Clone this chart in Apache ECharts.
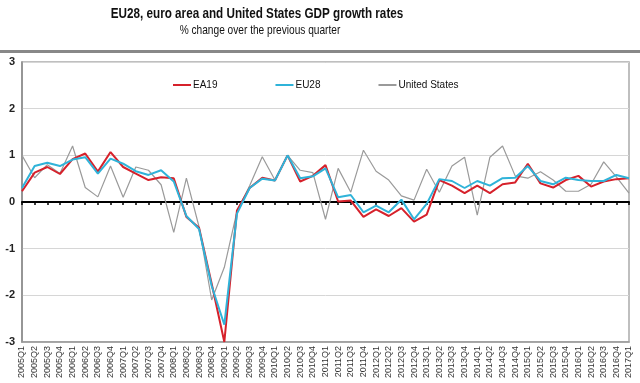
<!DOCTYPE html>
<html><head><meta charset="utf-8">
<script src="https://cdn.jsdelivr.net/npm/echarts@6/dist/echarts.min.js"></script>
<style>html,body{margin:0;padding:0;background:#fff}#c{width:640px;height:383px}</style>
</head><body><div id="c"></div>
<script>
var quarters = ['2005Q1','2005Q2','2005Q3','2005Q4','2006Q1','2006Q2','2006Q3','2006Q4',
'2007Q1','2007Q2','2007Q3','2007Q4','2008Q1','2008Q2','2008Q3','2008Q4',
'2009Q1','2009Q2','2009Q3','2009Q4','2010Q1','2010Q2','2010Q3','2010Q4',
'2011Q1','2011Q2','2011Q3','2011Q4','2012Q1','2012Q2','2012Q3','2012Q4',
'2013Q1','2013Q2','2013Q3','2013Q4','2014Q1','2014Q2','2014Q3','2014Q4',
'2015Q1','2015Q2','2015Q3','2015Q4','2016Q1','2016Q2','2016Q3','2016Q4','2017Q1'];
var ea19 = [0.23,0.63,0.75,0.60,0.92,1.04,0.65,1.07,0.75,0.61,0.47,0.53,0.51,-0.32,-0.55,-1.75,-3.0,
-0.18,0.30,0.52,0.46,1.0,0.44,0.56,0.79,0.01,0.03,-0.32,-0.16,-0.30,-0.13,-0.42,-0.27,
0.47,0.35,0.19,0.35,0.19,0.38,0.42,0.82,0.40,0.31,0.47,0.56,0.33,0.44,0.49,0.51];
var eu28 = [0.30,0.77,0.84,0.77,0.91,0.96,0.61,0.93,0.82,0.66,0.58,0.68,0.44,-0.30,-0.58,-1.8,-2.63,
-0.25,0.30,0.50,0.46,1.0,0.51,0.55,0.72,0.10,0.15,-0.22,-0.08,-0.22,0.05,-0.37,-0.04,
0.49,0.45,0.30,0.45,0.35,0.51,0.52,0.77,0.45,0.38,0.52,0.47,0.45,0.45,0.58,0.51];
var us = [1.0,0.52,0.80,0.61,1.2,0.31,0.11,0.77,0.10,0.75,0.68,0.37,-0.65,0.51,-0.53,-2.1,-1.4,
-0.2,0.35,0.97,0.47,1.0,0.68,0.63,-0.37,0.72,0.21,1.11,0.66,0.47,0.13,0.04,0.70,
0.21,0.77,0.96,-0.28,0.96,1.20,0.56,0.51,0.65,0.47,0.23,0.23,0.38,0.86,0.54,0.19];
var yTicks = [-3,-2,-1,0,1,2,3];
var titleText = 'EU28, euro area and United States GDP growth rates';
var subtitleText = '% change over the previous quarter';

var chart = echarts.init(document.getElementById('c'));
var font = 'Liberation Sans, Arial, sans-serif';
chart.setOption({
  animation:false,
  backgroundColor:'#fff',
  graphic:[
    {type:'text', x:257, y:14, scaleX:0.78, silent:true,
     style:{text:titleText, font:'bold 15px Liberation Sans, Arial, sans-serif', fill:'#111', textAlign:'center', textVerticalAlign:'middle'}},
    {type:'text', x:260, y:30, scaleX:0.78, silent:true,
     style:{text:subtitleText, font:'13px Liberation Sans, Arial, sans-serif', fill:'#111', textAlign:'center', textVerticalAlign:'middle'}},
    {type:'rect', shape:{x:0,y:50,width:640,height:3}, style:{fill:'#888'}, silent:true}
  ],
  legend:{
    left:168, top:75, itemWidth:18, itemHeight:2, itemGap:58, icon:'rect',
    textStyle:{fontFamily:font, fontSize:10, color:'#111', padding:[0,0,0,-3]},
    data:['EA19','EU28','United States']
  },
  grid:{left:22, right:11, top:62, bottom:41, show:true, borderColor:'#aaa', borderWidth:1.5, containLabel:false},
  xAxis:[
    {type:'category', data:quarters, boundaryGap:false, position:'bottom',
     axisLine:{onZero:false, lineStyle:{color:'#999', width:1.5}},
     axisTick:{show:false},
     axisLabel:{rotate:90, interval:0, fontFamily:font, fontSize:9, color:'#333', margin:4},
     splitLine:{show:false}},
    {type:'category', data:quarters, boundaryGap:false, position:'bottom',
     axisLine:{onZero:true, lineStyle:{color:'#000', width:2}},
     axisTick:{show:true, interval:0, length:3, lineStyle:{color:'#000', width:1.5}},
     axisLabel:{show:false}, splitLine:{show:false}}
  ],
  yAxis:{type:'value', min:yTicks[0], max:yTicks[yTicks.length-1], interval:1,
    axisLine:{show:true, onZero:false, lineStyle:{color:'#888', width:1.5}},
    axisTick:{show:false},
    axisLabel:{fontFamily:font, fontSize:11, fontWeight:'bold', color:'#222', margin:7},
    splitLine:{lineStyle:{color:'#d6d6d6', width:1}}},
  series:[
    {name:'United States', type:'line', data:us, xAxisIndex:0, showSymbol:false, symbol:'none',
     lineStyle:{color:'#9a9a9a', width:1.2}, itemStyle:{color:'#9a9a9a'}, z:2},
    {name:'EA19', type:'line', data:ea19, xAxisIndex:0, showSymbol:false, symbol:'none',
     lineStyle:{color:'#d6212b', width:2}, itemStyle:{color:'#d6212b'}, z:3},
    {name:'EU28', type:'line', data:eu28, xAxisIndex:0, showSymbol:false, symbol:'none',
     lineStyle:{color:'#2fb3d9', width:2}, itemStyle:{color:'#2fb3d9'}, z:4}
  ]
});
</script></body></html>
